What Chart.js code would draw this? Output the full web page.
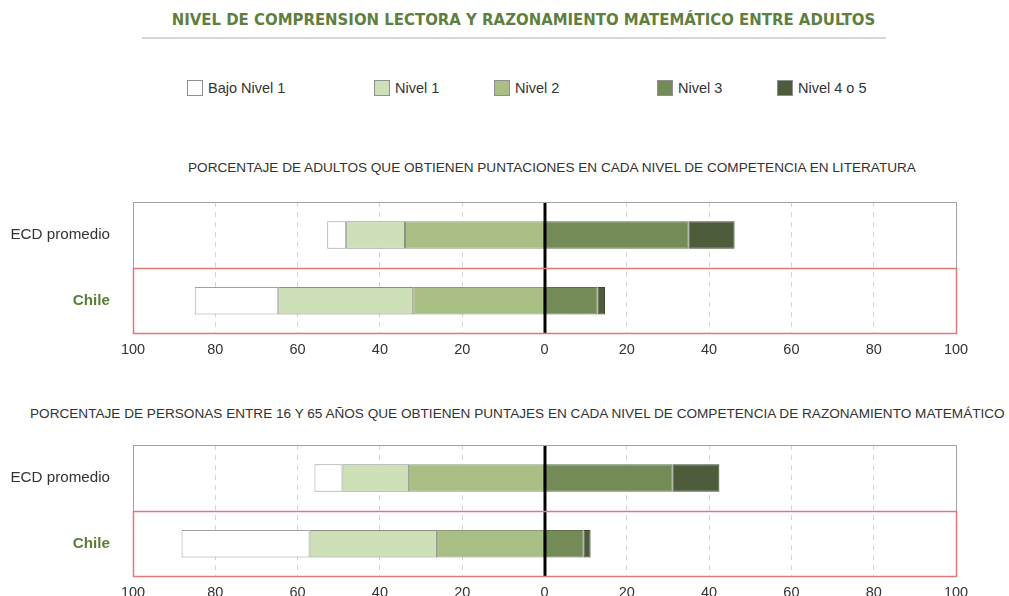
<!DOCTYPE html>
<html>
<head>
<meta charset="utf-8">
<script src="https://cdn.jsdelivr.net/npm/chart.js@4"></script>
<style>
  html,body{margin:0;padding:0;background:#fff;}
  body{width:1009px;height:596px;overflow:hidden;position:relative;font-family:"Liberation Sans",Arial,sans-serif;}
  .abs{position:absolute;white-space:nowrap;}
  #title{left:0;width:1047px;top:10px;text-align:center;color:#5f7f3f;font-weight:bold;font-size:16.6px;font-family:"DejaVu Sans Condensed","Liberation Sans",sans-serif;}
  #rule{left:142px;width:744px;top:37px;height:2px;background:#d6d9d0;}
  .lg{position:absolute;top:79px;height:17px;display:flex;align-items:center;font-size:14.5px;color:#333;}
  .lg span.b{display:inline-block;width:16px;height:16px;border:1px solid #8f8f8f;margin-right:5px;box-sizing:border-box;}
  .sub{font-size:13.6px;color:#333;}
  canvas{position:absolute;left:0;}
</style>
</head>
<body>
<div id="title" class="abs">NIVEL DE COMPRENSION LECTORA Y RAZONAMIENTO MATEMÁTICO ENTRE ADULTOS</div>
<div id="rule" class="abs"></div>
<div id="legend"></div>
<div id="sub1" class="abs sub" style="left:188px;top:160px;">PORCENTAJE DE ADULTOS QUE OBTIENEN PUNTACIONES EN CADA NIVEL DE COMPETENCIA EN LITERATURA</div>
<div id="sub2" class="abs sub" style="left:30px;top:406px;">PORCENTAJE DE PERSONAS ENTRE 16 Y 65 AÑOS QUE OBTIENEN PUNTAJES EN CADA NIVEL DE COMPETENCIA DE RAZONAMIENTO MATEMÁTICO</div>
<canvas id="c1" style="top:170px;" width="1009" height="199"></canvas>
<canvas id="c2" style="top:413px;" width="1009" height="199"></canvas>
<script>
// ---- data ----
const categories = ['ECD promedio', 'Chile'];
const seriesNames = ['Bajo Nivel 1', 'Nivel 1', 'Nivel 2', 'Nivel 3', 'Nivel 4 o 5'];
const seriesColors = ['#ffffff', '#cde0b7', '#a8be84', '#758b57', '#4d5c3a'];
// Literatura (percent of adults)
const litBajoNivel1 = [4.6, 20.3];
const litNivel1 = [14.3, 32.8];
const litNivel2 = [33.9, 31.9];
const litNivel3 = [35.0, 12.9];
const litNivel45 = [11.2, 1.8];
// Razonamiento matemático
const matBajoNivel1 = [6.8, 31.1];
const matNivel1 = [16.2, 31.0];
const matNivel2 = [32.9, 26.1];
const matNivel3 = [31.1, 9.5];
const matNivel45 = [11.4, 1.7];
const tickMin = -100, tickMax = 100, tickStep = 20;

// ---- legend (HTML) ----
const legendX = [187, 374, 494, 657, 777];
const legendEl = document.getElementById('legend');
seriesNames.forEach((n, i) => {
  const d = document.createElement('div');
  d.className = 'lg';
  d.style.left = legendX[i] + 'px';
  d.innerHTML = '<span class="b" style="background:' + seriesColors[i] + '"></span>' + n;
  legendEl.appendChild(d);
});

Chart.defaults.font.family = '"Liberation Sans", Arial, sans-serif';
Chart.defaults.color = '#333';

const rowBoxes = {
  id: 'rowBoxes',
  afterDatasetsDraw(chart) {
    const {ctx, chartArea: a, scales: {x, y}} = chart;
    const mid = (y.getPixelForValue(0) + y.getPixelForValue(1)) / 2;
    ctx.save();
    ctx.strokeStyle = '#000';
    ctx.lineWidth = 3;
    const x0 = Math.round(x.getPixelForValue(0));
    ctx.beginPath(); ctx.moveTo(x0, a.top); ctx.lineTo(x0, a.bottom); ctx.stroke();
    ctx.lineWidth = 1;
    ctx.strokeStyle = '#a3a3a3';
    ctx.strokeRect(Math.round(a.left) + 0.5, Math.round(a.top) + 0.5, Math.round(a.width), Math.round(mid - a.top));
    ctx.strokeStyle = '#e07a7a';
    ctx.lineWidth = 1.5;
    ctx.strokeRect(Math.round(a.left) + 0.5, Math.round(mid) + 0.5, Math.round(a.width), Math.round(a.bottom - mid) - 1);
    ctx.restore();
  }
};

function makeChart(id, bajo, n1, n2, n3, n45) {
  const neg = arr => arr.map(v => -v);
  const common = {borderWidth: 1, borderSkipped: false, categoryPercentage: 1, barPercentage: 0.42};
  const datasets = [
    Object.assign({label: seriesNames[2], data: neg(n2), backgroundColor: seriesColors[2], borderColor: '#8a9a78'}, common),
    Object.assign({label: seriesNames[1], data: neg(n1), backgroundColor: seriesColors[1], borderColor: '#8a8f85'}, common),
    Object.assign({label: seriesNames[0], data: neg(bajo), backgroundColor: seriesColors[0], borderColor: '#a0a0a0'}, common),
    Object.assign({label: seriesNames[3], data: n3, backgroundColor: seriesColors[3], borderColor: '#5f7049'}, common),
    Object.assign({label: seriesNames[4], data: n45, backgroundColor: seriesColors[4], borderColor: '#3d4a2e'}, common)
  ];
  return new Chart(document.getElementById(id), {
    type: 'bar',
    data: {labels: categories, datasets},
    plugins: [rowBoxes],
    options: {
      indexAxis: 'y',
      responsive: false,
      animation: false,
      layout: {padding: {top: 12, right: 53, bottom: 2, left: 0}},
      plugins: {legend: {display: false}, tooltip: {enabled: false}},
      scales: {
        x: {
          stacked: true,
          min: tickMin, max: tickMax,
          ticks: {stepSize: tickStep, callback: v => Math.abs(v), font: {size: 14.5}, color: '#333', padding: 8, maxRotation: 0},
          grid: {
            drawTicks: false,
            color: c => (Math.abs(c.tick.value) === 100 || c.tick.value === 0) ? 'rgba(0,0,0,0)' : '#d4d4d4',
            lineWidth: 1
          },
          border: {display: false, dash: [5, 5]}
        },
        y: {
          stacked: true,
          afterFit: s => { s.width = 133; },
          grid: {display: false, drawTicks: false},
          border: {display: false},
          ticks: {
            padding: 23,
            font: c => ({size: 15.2, weight: c.index === 1 ? 'bold' : 'normal'}),
            color: c => c.index === 1 ? '#5a7d35' : '#333'
          }
        }
      }
    }
  });
}

makeChart('c1', litBajoNivel1, litNivel1, litNivel2, litNivel3, litNivel45);
makeChart('c2', matBajoNivel1, matNivel1, matNivel2, matNivel3, matNivel45);
</script>
</body>
</html>
